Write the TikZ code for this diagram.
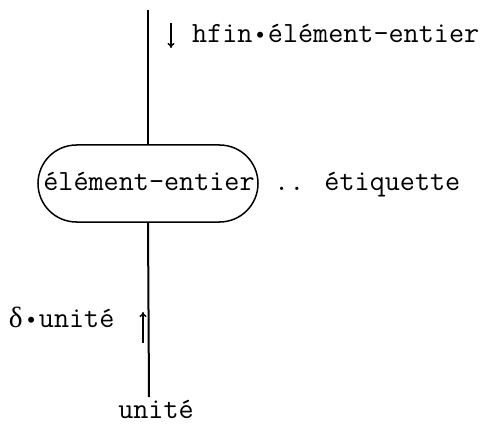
\documentclass[tikz,border=0pt]{standalone}
\usepackage{fontspec}
\newfontfamily\grk{Liberation Serif}
\newfontfamily\bulf{Liberation Mono}
\usetikzlibrary{arrows.meta}
\newcommand{\dotsep}{\makebox[0.525em]{{\bulf\fontsize{22}{22}\selectfont •}}}
\newcommand{\grkd}{\makebox[0.525em]{\grk δ}}
\begin{document}
\begin{tikzpicture}[x=1pt,y=-1pt,
  lbl/.style={font=\ttfamily\fontsize{29.3}{32}\selectfont, inner sep=0pt},
  capsule/.style={draw, line width=1.5pt, rounded corners=38.5pt, minimum width=220pt, minimum height=77pt, inner sep=0pt},
  mainline/.style={line width=2pt},
  flow/.style={line width=1.4pt, -{To[length=5pt,width=7pt]}}]
\useasboundingbox (0,0) rectangle (490,425);
\node[capsule] (cap) at (148,183.5) {};
\node[lbl, anchor=base] (captext) at (149,190) {élément-entier};
\node[lbl, anchor=base west] (etiq) at (274,190) {.. étiquette};
\node[lbl, anchor=base west] (hfin) at (192,43) {hfin\dotsep élément-entier};
\node[lbl, anchor=base west] (delta) at (8,327) {\grkd\dotsep unité};
\node[lbl, anchor=base] (unite) at (156,418) {unité};
\coordinate (top) at (148,10);
\coordinate (bot) at (149,397);
\draw[mainline] (top) -- (cap.north);
\draw[mainline] (cap.south) -- (bot);
\coordinate (a1s) at (171,23);
\coordinate (a1e) at (171,48);
\coordinate (a2s) at (143,343);
\coordinate (a2e) at (143,312);
\draw[flow] (a1s) -- (a1e);
\draw[flow] (a2s) -- (a2e);
\end{tikzpicture}
\end{document}
